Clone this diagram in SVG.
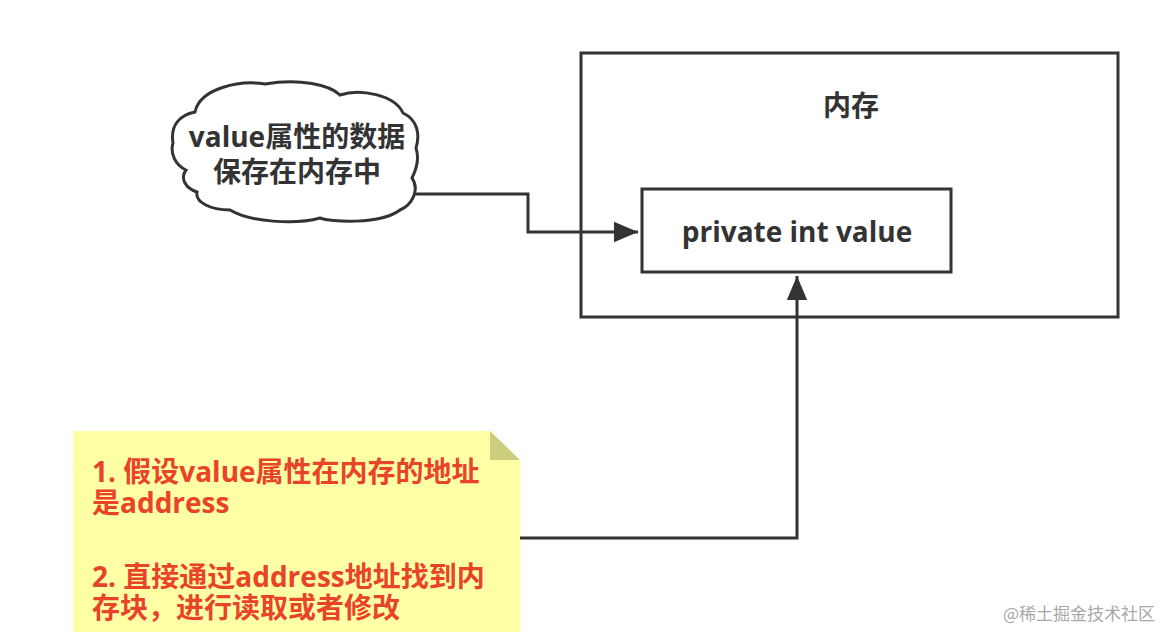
<svg xmlns="http://www.w3.org/2000/svg" width="1170" height="632" viewBox="0 0 1170 632">
<style>
.box{fill:#ffffff;stroke:#333333;stroke-width:3}
.conn{fill:none;stroke:#333333;stroke-width:3}
.t{font-family:"Open Sans","Noto Sans CJK SC",sans-serif;font-weight:bold;font-size:28px;fill:#333333}
.r{font-family:"Open Sans","Noto Sans CJK SC",sans-serif;font-weight:bold;font-size:28px;fill:#e9432a}
.wm{font-family:"Noto Sans CJK SC",sans-serif;font-size:17px;fill:#a8a8a8}
</style>
<defs>
<marker id="arr" markerWidth="9" markerHeight="8" refX="8" refY="4" orient="auto" markerUnits="strokeWidth">
<path d="M0,0.6 L8,4 L0,7.4 Z" fill="#333333"/>
</marker>
</defs>
<rect width="1170" height="632" fill="#ffffff"/>
<g id="memory">
<rect class="box" x="581" y="53" width="537" height="264"/>
<text class="t" x="851" y="116" text-anchor="middle">内存</text>
</g>
<g id="value-box">
<rect class="box" x="642" y="189" width="309" height="83"/>
<text class="t" x="797" y="242" text-anchor="middle">private int value</text>
</g>
<g id="cloud">
<path class="box" d="M173,143 C170,125 180,115 195,112 C200,88 240,80 265,84 C300,78 330,85 340,95 C360,88 395,95 403,113 C418,120 420,135 416,148 C420,160 415,172 412,178 C420,190 412,205 400,210 C380,225 330,222 320,218 C295,225 250,222 230,210 C210,210 195,202 197,192 C185,188 180,178 186,170 C175,165 170,153 173,143 Z"/>
<text class="t" x="297" y="147" text-anchor="middle">value属性的数据</text>
<text class="t" x="297" y="182" text-anchor="middle">保存在内存中</text>
</g>
<g id="note">
<path d="M73,431 L490,431 L520,460 L520,632 L73,632 Z" fill="#ffffa6"/>
<path d="M490,431 L490,460 L520,460 Z" fill="#cdcd7e"/>
<text class="r" x="92" y="482">1. 假设value属性在内存的地址</text>
<text class="r" x="92" y="513">是address</text>
<text class="r" x="92" y="587">2. 直接通过address地址找到内</text>
<text class="r" x="92" y="618">存块，进行读取或者修改</text>
</g>
<g id="connectors">
<path class="conn" d="M415,194 L528,194 L528,232 L638,232" marker-end="url(#arr)"/>
<path class="conn" d="M520,538 L797,538 L797,276" marker-end="url(#arr)"/>
</g>
<text class="wm" x="1003" y="620">@稀土掘金技术社区</text>
</svg>
